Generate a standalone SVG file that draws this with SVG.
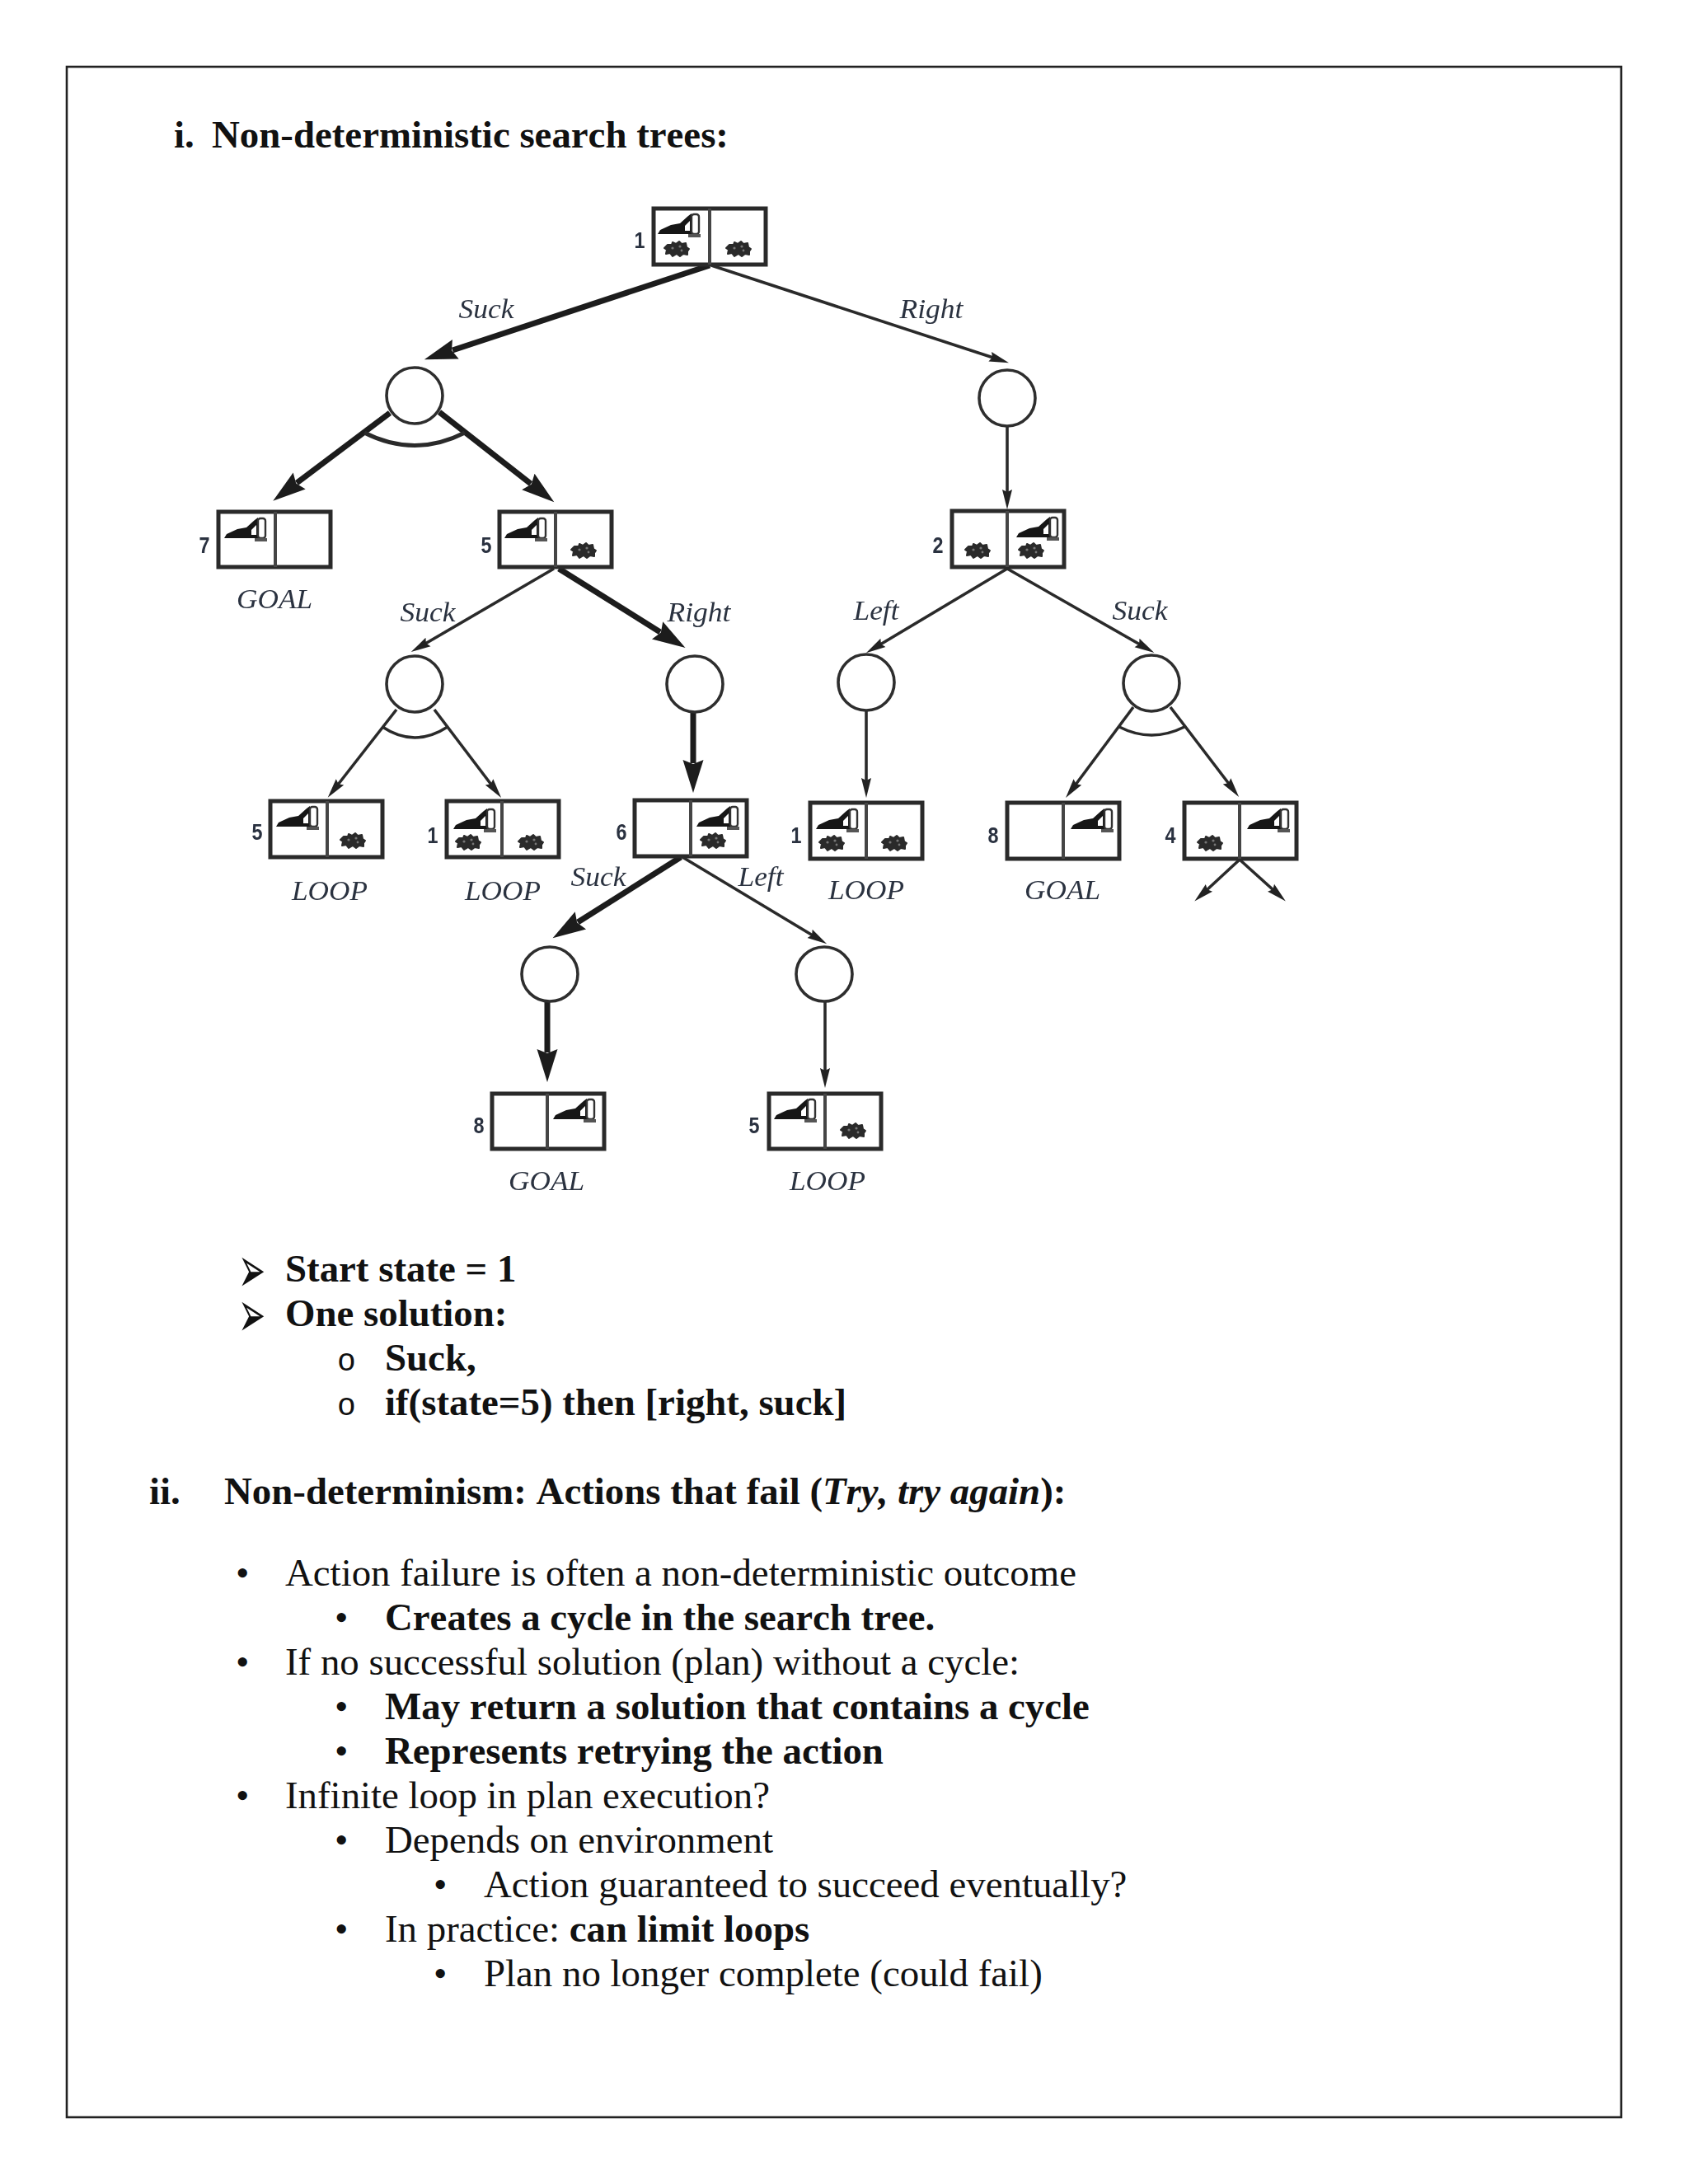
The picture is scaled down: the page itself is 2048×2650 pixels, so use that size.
<svg xmlns="http://www.w3.org/2000/svg" width="2048" height="2650" viewBox="0 0 2048 2650">
<style>
.t{font-family:"Liberation Serif","Times New Roman",serif;font-size:46.85px;fill:#111;font-kerning:none}
.b{font-weight:bold}
.m{font-family:"Liberation Mono","Courier New",monospace;font-size:38px;fill:#111}
.ar{font-family:"DejaVu Sans",sans-serif;font-size:36px;fill:#111}
.box{fill:#fff;stroke:#2b2b2b;stroke-width:5}
.div{stroke:#444;stroke-width:4}
.c{fill:#fff;stroke:#2e2e2e;stroke-width:3.6}
.num{font-family:"Liberation Sans",Arial,sans-serif;font-weight:bold;font-size:27px;fill:#2a3040;text-anchor:middle}
.lab{font-family:"Liberation Serif","Times New Roman",serif;font-style:italic;font-size:33px;fill:#2c3340;text-anchor:middle}
.thick{fill:none;stroke:#1c1c1c;stroke-width:7;marker-end:url(#hb)}
.thin{fill:none;stroke:#2a2a2a;stroke-width:3.6;marker-end:url(#hs)}
.arc{fill:none;stroke:#2a2a2a;stroke-width:3.4}
.soft{filter:url(#soft)}
</style>
<defs>
<filter id="soft" x="-5%" y="-5%" width="110%" height="110%"><feGaussianBlur stdDeviation="0.7"/></filter>
<marker id="hb" markerUnits="userSpaceOnUse" markerWidth="44" markerHeight="28" refX="4" refY="14" orient="auto"><path d="M0 1.5L40 14L0 26.5L5 14Z" fill="#1c1c1c"/></marker>
<marker id="hs" markerUnits="userSpaceOnUse" markerWidth="28" markerHeight="16" refX="4" refY="8" orient="auto"><path d="M0 2L24 8L0 14L3 8Z" fill="#222"/></marker>
<g id="robot"><path d="M0 25L3 20L16 14L27 12L37 3L41 0L41 25Z" fill="#161616"/><path d="M33 15L39 9L39 21L33 21Z" fill="#fff"/><rect x="41" y="1" width="9" height="24" rx="3" fill="#fff" stroke="#333" stroke-width="2.4"/><path d="M37 25H52V29H37Z" fill="#555"/></g>
<g id="dirt"><path d="M5 5L10 5L11 2L15 4L19 1L22 4L27 3L28 8L31 10L29 13L29 17L24 16L20 19L16 16L11 19L8 15L3 16L4 11L1 9Z" fill="#2a2a2a" stroke="#2a2a2a" stroke-width="2" stroke-linejoin="round"/><circle cx="11" cy="9" r="1.6" fill="#777"/><circle cx="20" cy="7" r="1.6" fill="#777"/><circle cx="22" cy="12" r="1.4" fill="#777"/></g>
</defs>
<rect id="frame" x="81" y="81" width="1886" height="2488" fill="#fff" stroke="#222" stroke-width="2.6"/>
<text class="t b" x="211" y="179">i.</text><text class="t b" x="257" y="179">Non-deterministic search trees:</text>

<g id="connectors" class="soft">
<path class="thick" d="M861 322L549 425"/>
<path class="thick" d="M473 501L360 586"/>
<path class="thick" d="M533 500L644 587"/>
<path class="thick" d="M678 690L801 767"/>
<path class="thick" d="M841 864V926"/>
<path class="thick" d="M826 1040L701 1119"/>
<path class="thick" d="M664 1215V1277"/>
<path class="thin" d="M863 322L1205 434"/>
<path class="thin" d="M1222 517V598"/>
<path class="thin" d="M672 690L516 781"/>
<path class="thin" d="M481 861L410 952"/>
<path class="thin" d="M527 861L596 952"/>
<path class="thin" d="M1051 862V948"/>
<path class="thin" d="M1222 690L1068 782"/>
<path class="thin" d="M1222 690L1383 782"/>
<path class="thin" d="M1375 858L1305 952"/>
<path class="thin" d="M1420 858L1491 951"/>
<path class="thin" d="M1504 1043L1464 1080"/>
<path class="thin" d="M1504 1043L1545 1080"/>
<path class="thin" d="M828 1040L986 1135"/>
<path class="thin" d="M1001 1215V1300"/>
<path class="arc" style="stroke-width:5" d="M442 525Q503 556 564 525"/>
<path class="arc" d="M464 882Q503 908 543 882"/>
<path class="arc" d="M1358 882Q1397 902 1437 882"/>
</g>

<g id="s1" class="soft"><rect class="box" x="793" y="253" width="136" height="68"/><line class="div" x1="861" y1="253" x2="861" y2="321"/><use href="#robot" x="798" y="259"/><use href="#dirt" x="805" y="292"/><use href="#dirt" x="880" y="292"/><text class="num" x="776" y="301" textLength="13" lengthAdjust="spacingAndGlyphs">1</text></g>
<g id="c0" class="soft"><ellipse class="c" cx="503" cy="480" rx="34" ry="34"/></g>
<g id="c1" class="soft"><ellipse class="c" cx="1222" cy="483" rx="34" ry="34"/></g>
<g id="s7" class="soft"><rect class="box" x="265" y="621" width="136" height="67"/><line class="div" x1="334" y1="621" x2="334" y2="688"/><use href="#robot" x="272" y="628"/><text class="num" x="248" y="671" textLength="13" lengthAdjust="spacingAndGlyphs">7</text></g>
<text class="lab soft" x="333" y="738" textLength="92" lengthAdjust="spacingAndGlyphs">GOAL</text>
<g id="s5" class="soft"><rect class="box" x="606" y="621" width="136" height="67"/><line class="div" x1="674" y1="621" x2="674" y2="688"/><use href="#robot" x="612" y="628"/><use href="#dirt" x="692" y="658"/><text class="num" x="590" y="671" textLength="13" lengthAdjust="spacingAndGlyphs">5</text></g>
<g id="s2" class="soft"><rect class="box" x="1155" y="620" width="136" height="68"/><line class="div" x1="1222" y1="620" x2="1222" y2="688"/><use href="#robot" x="1233" y="627"/><use href="#dirt" x="1170" y="658"/><use href="#dirt" x="1235" y="658"/><text class="num" x="1138" y="671" textLength="13" lengthAdjust="spacingAndGlyphs">2</text></g>
<g id="c2" class="soft"><ellipse class="c" cx="503" cy="830" rx="34" ry="34"/></g>
<g id="c3" class="soft"><ellipse class="c" cx="843" cy="830" rx="34" ry="34"/></g>
<g id="c4" class="soft"><ellipse class="c" cx="1051" cy="828" rx="34" ry="34"/></g>
<g id="c5" class="soft"><ellipse class="c" cx="1397" cy="829" rx="34" ry="34"/></g>
<g id="s5b" class="soft"><rect class="box" x="328" y="972" width="136" height="68"/><line class="div" x1="397" y1="972" x2="397" y2="1040"/><use href="#robot" x="335" y="978"/><use href="#dirt" x="412" y="1010"/><text class="num" x="312" y="1019" textLength="13" lengthAdjust="spacingAndGlyphs">5</text></g>
<g id="s1b" class="soft"><rect class="box" x="542" y="972" width="136" height="68"/><line class="div" x1="609" y1="972" x2="609" y2="1040"/><use href="#robot" x="550" y="981"/><use href="#dirt" x="552" y="1012"/><use href="#dirt" x="628" y="1012"/><text class="num" x="525" y="1023" textLength="13" lengthAdjust="spacingAndGlyphs">1</text></g>
<g id="s6" class="soft"><rect class="box" x="770" y="971" width="136" height="68"/><line class="div" x1="838" y1="971" x2="838" y2="1039"/><use href="#robot" x="845" y="978"/><use href="#dirt" x="849" y="1010"/><text class="num" x="754" y="1019" textLength="13" lengthAdjust="spacingAndGlyphs">6</text></g>
<g id="s1c" class="soft"><rect class="box" x="983" y="974" width="136" height="68"/><line class="div" x1="1051" y1="974" x2="1051" y2="1042"/><use href="#robot" x="990" y="981"/><use href="#dirt" x="993" y="1013"/><use href="#dirt" x="1069" y="1013"/><text class="num" x="966" y="1023" textLength="13" lengthAdjust="spacingAndGlyphs">1</text></g>
<g id="s8" class="soft"><rect class="box" x="1222" y="974" width="136" height="68"/><line class="div" x1="1290" y1="974" x2="1290" y2="1042"/><use href="#robot" x="1299" y="981"/><text class="num" x="1205" y="1023" textLength="13" lengthAdjust="spacingAndGlyphs">8</text></g>
<g id="s4" class="soft"><rect class="box" x="1437" y="974" width="136" height="68"/><line class="div" x1="1504" y1="974" x2="1504" y2="1042"/><use href="#robot" x="1513" y="981"/><use href="#dirt" x="1452" y="1013"/><text class="num" x="1420" y="1023" textLength="13" lengthAdjust="spacingAndGlyphs">4</text></g>
<g id="c6" class="soft"><ellipse class="c" cx="667" cy="1182" rx="34" ry="33"/></g>
<g id="c7" class="soft"><ellipse class="c" cx="1000" cy="1182" rx="34" ry="33"/></g>
<g id="s8b" class="soft"><rect class="box" x="597" y="1327" width="136" height="67"/><line class="div" x1="664" y1="1327" x2="664" y2="1394"/><use href="#robot" x="671" y="1333"/><text class="num" x="581" y="1375" textLength="13" lengthAdjust="spacingAndGlyphs">8</text></g>
<g id="s5c" class="soft"><rect class="box" x="933" y="1327" width="136" height="67"/><line class="div" x1="1001" y1="1327" x2="1001" y2="1394"/><use href="#robot" x="939" y="1333"/><use href="#dirt" x="1019" y="1362"/><text class="num" x="915" y="1375" textLength="13" lengthAdjust="spacingAndGlyphs">5</text></g>

<g id="labels" class="soft">
<text class="lab" x="590" y="386" textLength="67" lengthAdjust="spacingAndGlyphs">Suck</text>
<text class="lab" x="1130" y="386" textLength="77" lengthAdjust="spacingAndGlyphs">Right</text>
<text class="lab" x="519" y="754" textLength="67" lengthAdjust="spacingAndGlyphs">Suck</text>
<text class="lab" x="848" y="754" textLength="77" lengthAdjust="spacingAndGlyphs">Right</text>
<text class="lab" x="1063" y="752" textLength="55" lengthAdjust="spacingAndGlyphs">Left</text>
<text class="lab" x="1383" y="752" textLength="67" lengthAdjust="spacingAndGlyphs">Suck</text>
<text class="lab" x="400" y="1092" textLength="92" lengthAdjust="spacingAndGlyphs">LOOP</text>
<text class="lab" x="610" y="1092" textLength="92" lengthAdjust="spacingAndGlyphs">LOOP</text>
<text class="lab" x="1051" y="1091" textLength="92" lengthAdjust="spacingAndGlyphs">LOOP</text>
<text class="lab" x="1289" y="1091" textLength="92" lengthAdjust="spacingAndGlyphs">GOAL</text>
<text class="lab" x="726" y="1075" textLength="67" lengthAdjust="spacingAndGlyphs">Suck</text>
<text class="lab" x="923" y="1075" textLength="55" lengthAdjust="spacingAndGlyphs">Left</text>
<text class="lab" x="663" y="1444" textLength="92" lengthAdjust="spacingAndGlyphs">GOAL</text>
<text class="lab" x="1004" y="1444" textLength="92" lengthAdjust="spacingAndGlyphs">LOOP</text>
</g>

<g id="text">
<text class="ar" transform="translate(289 1568) scale(1.1 2.2)">➢</text><text class="t b" x="346" y="1555">Start state = 1</text>
<text class="ar" transform="translate(289 1622) scale(1.1 2.2)">➢</text><text class="t b" x="346" y="1609">One solution:</text>
<text class="m" x="409" y="1663">o</text><text class="t b" x="467" y="1663">Suck,</text>
<text class="m" x="409" y="1717">o</text><text class="t b" x="467" y="1717">if(state=5) then [right, suck]</text>
<text class="t b" x="181" y="1825">ii.</text><text class="t b" x="272" y="1825">Non-determinism: Actions that fail (<tspan font-style="italic">Try, try again</tspan>):</text>
<text class="t" x="286" y="1924">•</text><text class="t" x="346" y="1924">Action failure is often a non-deterministic outcome</text>
<text class="t" x="406" y="1978">•</text><text class="t b" x="467" y="1978">Creates a cycle in the search tree.</text>
<text class="t" x="286" y="2032">•</text><text class="t" x="346" y="2032">If no successful solution (plan) without a cycle:</text>
<text class="t" x="406" y="2086">•</text><text class="t b" x="467" y="2086">May return a solution that contains a cycle</text>
<text class="t" x="406" y="2140">•</text><text class="t b" x="467" y="2140">Represents retrying the action</text>
<text class="t" x="286" y="2194">•</text><text class="t" x="346" y="2194">Infinite loop in plan execution?</text>
<text class="t" x="406" y="2248">•</text><text class="t" x="467" y="2248">Depends on environment</text>
<text class="t" x="526" y="2302">•</text><text class="t" x="587" y="2302">Action guaranteed to succeed eventually?</text>
<text class="t" x="406" y="2356">•</text><text class="t" x="467" y="2356">In practice: <tspan class="b">can limit loops</tspan></text>
<text class="t" x="526" y="2410">•</text><text class="t" x="587" y="2410">Plan no longer complete (could fail)</text>
</g>
</svg>
